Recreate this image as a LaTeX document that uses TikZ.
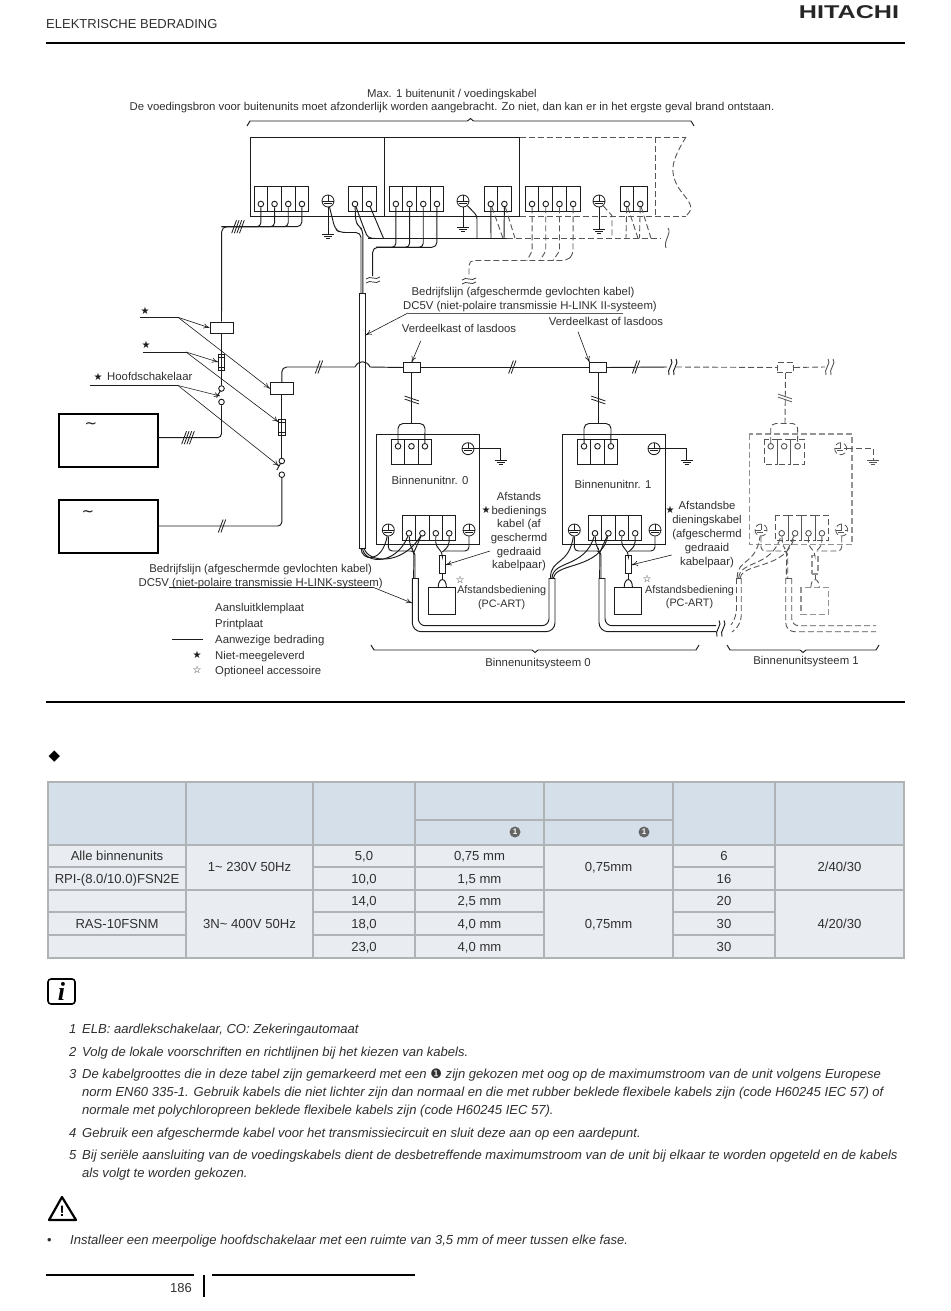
\documentclass[tikz,border=0pt]{standalone}
\usepackage{fontspec}
\setmainfont{Liberation Sans}
\newfontfamily\symf{DejaVu Sans}
\newfontfamily\serf{Liberation Serif}
\usetikzlibrary{arrows.meta,calc}
\definecolor{txtc}{HTML}{303030}
\definecolor{linec}{HTML}{1C1C1C}
\definecolor{dashc}{HTML}{555555}
\definecolor{headbg}{HTML}{D5DFE9}
\definecolor{bodybg}{HTML}{E9ECF1}
\definecolor{gridc}{HTML}{B0B3B6}
\tikzset{
 wire/.style={draw=linec,line width=0.95pt},
 wired/.style={draw=dashc,line width=0.9pt,dash pattern=on 6pt off 3pt},
 lead/.style={draw=linec,line width=0.6pt,-{To[length=6pt,width=5pt]}},
 leadp/.style={draw=linec,line width=0.7pt},
 rule/.style={draw=black,line width=1.5pt},
 dtxt/.style={font=\fontsize{11.35}{13}\selectfont,text=txtc,inner sep=0pt,text height=11pt,text depth=2pt},
 ntxt/.style={font=\fontsize{13.05}{15}\selectfont\itshape,text=txtc,inner sep=0pt,anchor=west,text height=12pt,text depth=2pt},
 ttxt/.style={font=\fontsize{13.1}{15}\selectfont,text=txtc,inner sep=0pt,text height=11pt,text depth=2pt},
 symtxt/.style={font=\fontsize{10}{11}\symf,text=linec,inner sep=0pt},
 term/.style={circle,draw=linec,line width=0.9pt,fill=white,minimum size=5.6pt,inner sep=0pt},
 termd/.style={circle,draw=dashc,line width=0.9pt,fill=white,minimum size=5.6pt,inner sep=0pt},
 box/.style={draw=linec,line width=1pt,inner sep=0pt},
 grid/.style={draw=gridc,line width=2pt},
}
% strip: {line style}{term style}{x}{y}{n}{w}{circle dy}{name}
\newcommand{\dgstrip}[8]{%
 \foreach \i in {1,...,#5}{\draw[#1] ({#3+(\i-1)*#6},#4) rectangle ++(#6,25);
  \node[#2] (#8\i) at ({#3+(\i-0.5)*#6},{#4+#7}) {};}}
\newcommand{\dgearth}[5]{% style, unused, name, x, y
 \node[#1,circle,fill=white,minimum size=12pt,inner sep=0pt,line width=0.8pt] (#3) at (#4,#5) {};
 \draw[#1] ({#4-6},#5)--({#4+6},#5) (#4,{#5-6})--(#4,#5) ({#4-4},{#5+2})--({#4+4},{#5+2});}
\newcommand{\dggnd}[4]{% style,name,x,y
 \coordinate (#2) at (#3,#4);
 \draw[#1,solid] ({#3-6},#4)--({#3+6},#4) ({#3-4},{#4+2})--({#3+4},{#4+2}) ({#3-2},{#4+4})--({#3+2},{#4+4});}
\newcommand{\dghb}[4]{% style,x,y,n : hatch on horizontal wire
 \foreach \i in {1,...,#4}{\draw[#1,solid,line width=0.8pt] ({#2+(\i-(#4+1)/2)*2.6-2.4},{#3+6.5})--({#2+(\i-(#4+1)/2)*2.6+2.4},{#3-6.5});}}
\newcommand{\dghv}[4]{% style,x,y,n : hatch on vertical wire
 \foreach \i in {1,...,#4}{\draw[#1,solid,line width=0.8pt] ({#2-7},{#3+(\i-(#4+1)/2)*3-2.4})--({#2+7},{#3+(\i-(#4+1)/2)*3+2.4});}}
\newcommand{\dgwav}[3]{% style,x,y : two wiggles
 \foreach \d in {-2,2}{\draw[#1,solid,line width=0.7pt] ({#2-7},{#3+\d+1}) .. controls ({#2-3},{#3+\d-3}) and ({#2+3},{#3+\d+3}) .. ({#2+7},{#3+\d-1});}}
\newcommand{\dgwig}[4]{% style,x,y,halfheight : vertical S
 \draw[#1,solid] ({#2+1},{#3-#4}) .. controls ({#2+5},{#3-#4/2}) and ({#2-4},{#3+#4/3}) .. ({#2-1},{#3+#4});}
\newcommand{\dgbrace}[5]{% style,x1,x2,y,dir (+1: ends hang below, notch above)
 \draw[#1] (#2,{#4+#5*5}) -- ({#2+3},#4) -- ({(#2+#3)/2-3},#4) -- ({(#2+#3)/2},{#4-#5*2.5}) -- ({(#2+#3)/2+3},#4) -- ({#3-3},#4) -- (#3,{#4+#5*5});}
\newcommand{\dgn}[1]{\makebox[13pt][l]{#1}}
% indoor unit
\newcommand{\dgindoor}[5]{% prefix, dx, wire style, term style, box style
 \begin{scope}[xshift=#2pt]
 \draw[#5] (376.7,434) rectangle (479.3,544.5);
 \dgstrip{#3}{#4}{391.3}{439.3}{3}{13.45}{7}{#1t}
 \dgstrip{#3}{#4}{402.3}{515.3}{4}{13.4}{18}{#1b}
 \dgearth{#3,draw}{}{#1et}{468}{448.7}
 \dgearth{#3,draw}{}{#1el}{388.3}{530}
 \dgearth{#3,draw}{}{#1er}{469}{530}
 \dggnd{#3}{#1g}{500.7}{460}
 \draw[#3,rounded corners=5] (#1t1) -- (398,423.5) -- (425,423.5) -- (#1t3);
 \draw[#3] (#1et) -| (#1g);
 \node[#5,minimum width=6pt,minimum height=18.3pt,fill=white] (#1r) at (442.3,564.8) {};
 \node[#5,minimum width=27.4pt,minimum height=27pt] (#1c) at (442,600.8) {};
 \draw[#3,rounded corners=4] (#1b3) -- (435.7,546) -- (442.3,552) -- (#1r.north);
 \draw[#3,rounded corners=4] (#1b4) -- (449,546) -- (442.3,552);
 \draw[#3,rounded corners=4] (#1er) -- (469,551) -- (444,551);
 \draw[#3,rounded corners=4] (#1el) -- (388.3,551) -- (415,551) -- (415,578);
 \draw[#3,rounded corners=4] (#1b1) -- (410,546) -- (414,551) -- (413.6,578);
 \draw[#3] (#1b2) -- (414,552);
 \draw[#3] (#1r.south) -- (442.3,579);
 \draw[#3] (438.2,587.3) .. controls (438.2,577) and (446.4,577) .. (446.4,587.3);
 \end{scope}}
\begin{document}
\begin{tikzpicture}[x=1pt,y=-1pt]
\useasboundingbox (0,0) rectangle (950,1311);
\fill[white] (0,0) rectangle (950,1311);
% header
\node[dtxt,font=\fontsize{13}{15}\selectfont,anchor=west] (hdr) at (46,24) {ELEKTRISCHE BEDRADING};
\node[inner sep=0pt,text=black!85] (logo) at (849,12.5) {\scalebox{1.36}[1]{\fontsize{18.5}{20}\selectfont\bfseries HITACHI}};
\draw[rule] (46,43)--(905,43);
\draw[rule] (46,702)--(905,702);
% top text
\node[dtxt] (t1) at (452,93) {Max. 1 buitenunit / voedingskabel};
\node[dtxt] (t2) at (452,106) {De voedingsbron voor buitenunits moet afzonderlijk worden aangebracht. Zo niet, dan kan er in het ergste geval brand ontstaan.};
\dgbrace{wire}{247}{694}{121}{1}
% outdoor boxes
\draw[wire] (250,137) rectangle (384.5,216);
\draw[wire] (384.5,137) rectangle (519.5,216);
\draw[wired] (519.5,137)--(686,137) (655.7,137)--(655.7,216) (519.5,216)--(686,216);
\draw[wired] (686,137) .. controls (672,160) and (668,172) .. (680,190) .. controls (692,205) and (694,208) .. (686,216);
% strips
\dgstrip{wire}{term}{254}{186}{4}{13.7}{18}{sa}
\dgstrip{wire}{term}{348}{186}{2}{14}{18}{sb}
\dgstrip{wire}{term}{389}{186}{4}{13.7}{18}{sc}
\dgstrip{wire}{term}{484}{186}{2}{13.6}{18}{sd}
\dgstrip{wire}{term}{525.2}{186}{4}{13.7}{18}{se}
\dgstrip{wire}{term}{620}{186}{2}{13.5}{18}{sf}
\dgearth{wire,draw}{}{ea}{328}{201}
\dgearth{wire,draw}{}{eb}{463}{201}
\dgearth{wire,draw}{}{ec}{599}{201}
\dggnd{wire}{ga}{328}{234}
\dggnd{wire}{gb}{463}{227}
\dggnd{wire}{gc}{599}{229}
\draw[wire] (ea)--(ga) (eb)--(gb) (ec)--(gc);
% outdoor power bus
\coordinate (ca) at (221.7,226.7);
\foreach \i in {1,2,3}{\draw[wire,rounded corners=4] (sa\i) |- (ca);}
\coordinate (pa) at (158,437.7);
\coordinate (pb) at (158,526);
\node[box,minimum width=23pt,minimum height=11.5pt] (elba) at (221.5,327.8) {};
\node[box,minimum width=23pt,minimum height=11.5pt] (elbb) at (281.8,388.5) {};
\node[box,minimum width=6.5pt,minimum height=16pt] (fa) at (221.5,362) {};
\node[box,minimum width=6.5pt,minimum height=16pt] (fb) at (281.8,427) {};
\node[term] (swa1) at (221.5,388.5) {};
\node[term] (swa2) at (221.5,402) {};
\node[term] (swb1) at (281.8,461) {};
\node[term] (swb2) at (281.8,474.7) {};
\draw[wire] (218.2,357)--(224.8,357) (218.2,367)--(224.8,367) (278.5,422)--(285,422) (278.5,432)--(285,432);
\node[draw=black,line width=1.4pt,inner sep=0pt,minimum width=99pt,minimum height=53pt] (psua) at (108.5,440.5) {};
\node[draw=black,line width=1.4pt,inner sep=0pt,minimum width=99pt,minimum height=53pt] (psub) at (108.5,526.5) {};
\draw[wire,rounded corners=5] (sa4) |- (ca) -- (elba.north);
\draw[wire] (elba.south)--(fa.north) (fa.north)--(fa.south) (fa.south)--(swa1);
\draw[wire,rounded corners=4] (swa2) -- (221.5,437.7) -- (pa);
\draw[wire] (swa1)++(-1,2) -- ++(-4,7);
\draw[wire] (elbb.south)--(fb.north) (fb.north)--(fb.south) (fb.south)--(swb1);
\draw[wire,rounded corners=4] (swb2) -- (281.8,526) -- (pb);
\draw[wire] (swb1)++(-1,2) -- ++(-4,7);
\dghb{wire}{238}{226.7}{4}
\dghb{wire}{188}{437.7}{4}
\dghb{wire}{222}{526}{2}
\dghb{wire}{319}{367}{2}
\node[inner sep=0pt,font=\fontsize{15}{16}\symf,text=linec] (tila) at (91,426) {\char"223C};
\node[inner sep=0pt,font=\fontsize{15}{16}\symf,text=linec] (tilb) at (88,513) {\char"223C};
% transmission from outdoor
\draw[wire,rounded corners=5] (ea) -- (335,229) -- (340,232.5) -- (361,232.5) -- (361,293);
\draw[wire,rounded corners=4] (sb1) -- (355.7,222) -- (359,226.5) -- (362.8,230) -- (362.8,293);
\draw[wire,rounded corners=4] (sb1) -- (363,226) -- (368,238.3) -- (375,238.3);
\draw[wire] (sb2) -- (383.5,238.3);
\draw[wire] (368,238.3) -- (506.7,238.3);
\draw[wired] (506.7,238.3) -- (661,238.3);
\dgwig{wired}{667}{238}{10}
\draw[wire] (sd1) -- (491,238.3) (sd2) -- (504,238.3);
\draw[wire,rounded corners=3] (eb) -- (477,215.7) -- (477,238.3);
\draw[wired] (sd1) -- (503,238.3);
\draw[wired] (sd2) -- (515,238.3);
\draw[wired] (ec) -- (612,215.7) -- (612,238.3);
\draw[wired] (sf1) -- (626,238.3);
\draw[wired] (sf2) -- (639.5,238.3);
\draw[wired] (sf1) -- (638,238.3);
\draw[wired] (sf2) -- (651,238.3);
% strip c to cable
\foreach \i in {1,2,3}{\draw[wire,rounded corners=4] (sc\i) |- (376,247.3);}
\draw[wire,rounded corners=5] (sc4) |- (372.7,247.3) -- (372.7,276);
\dgwav{wire}{373}{280}
\foreach \i/\xx in {1/527,2/540,3/553}{\draw[wired] (se\i) -- ++(0,47) -- (\xx,260.5);}
\draw[wired,rounded corners=5] (se4) -- (573,255) -- (567,260.5) -- (469,260.5) -- (469,275);
\dgwav{wire}{469}{281}
% main sheath
\draw[wire] (359.3,293) rectangle (365.3,548);
% bus
\node[box,fill=white,minimum width=16.7pt,minimum height=9.6pt] (jb0) at (411.7,367.5) {};
\node[box,fill=white,minimum width=16.7pt,minimum height=9.6pt] (jb1) at (598.3,367.5) {};
\node[wired,draw,inner sep=0pt,minimum width=16.4pt,minimum height=9.6pt] (jb2) at (785.5,367.5) {};
\draw[wire,rounded corners=5] (elbb.north) |- (355,367);
\draw[wire] (355,367) .. controls (358,360) and (367,360) .. (370,367) -- (jb0.west);
\draw[wire] (jb0.east) -- (jb1.west);
\draw[wire] (jb1.east) -- (667,367);
\dgwig{wire}{670}{367}{8}
\dgwig{wire}{675}{367}{8}
\draw[wired] (676,367) -- (jb2.west);
\draw[wired] (jb2.east) -- (825,367);
\dgwig{wired}{827}{367}{8}
\dgwig{wired}{832}{367}{8}
\dghb{wire}{512.3}{367}{2}
\dghb{wire}{636}{367}{2}
\draw[wire] (jb0.south) -- (411.7,423.5);
\draw[wire] (jb1.south) -- (598.3,423.5);
\draw[wired] (jb2.south) -- (785,423.5);
\dghv{wire}{411.7}{400}{2}
\dghv{wire}{598.3}{400}{2}
\dghv{wired}{785}{398}{2}
% indoor units
\dgindoor{u}{0}{wire}{term}{box}
\dgindoor{v}{186}{wire}{term}{box}
\dgindoor{w}{372.7}{wired}{termd}{wired,draw,inner sep=0pt,draw=gray!85,line width=1.1pt}
% cable curves to unit 0
\draw[wire] (361,548) .. controls (361,561) and (382,564) .. (uel);
\draw[wire] (362.5,548) .. controls (364,564) and (396,566) .. (ub1);
\draw[wire] (364,548) .. controls (368,563) and (402,566) .. (ub2);
% cable curves to unit 1
\draw[wire] (550.5,578) .. controls (550.5,558) and (569,566) .. (vel);
\draw[wire] (552,578) .. controls (553,560) and (585,568) .. (vb1);
\draw[wire] (553.5,578) .. controls (556,562) and (600,570) .. (vb2);
% cable curves to unit 2
\draw[wired] (737.2,578) .. controls (737.2,558) and (755.7,566) .. (wel);
\draw[wired] (738.7,578) .. controls (739.7,560) and (771.7,568) .. (wb1);
\draw[wired] (740.2,578) .. controls (742.7,562) and (786.7,570) .. (wb2);
% bent sheaths
\draw[wire,rounded corners=9] (412.3,578) -- (412.3,631.7) -- (555,631.7) -- (555,578);
\draw[wire] (555,578) -- (549,578);
\draw[wire,rounded corners=7] (549,578) -- (549,625.7) -- (418.3,625.7) -- (418.3,578);
\draw[wire] (418.3,578) -- (412.3,578);
\draw[wire,rounded corners=9] (599,578) -- (599,631.7) -- (716,631.7);
\draw[wire,rounded corners=7] (605,578) -- (605,625.7) -- (716,625.7);
\draw[wire] (599,578) -- (605,578);
\dgwig{wire}{718}{628.5}{8}
\dgwig{wire}{723}{628.5}{8}
\draw[wired,rounded corners=7] (736.5,578) -- (736.5,616) -- (731,625);
\draw[wired,rounded corners=8] (741.2,578) -- (741.2,624) -- (732,632);
\draw[wired] (736.5,578) -- (741.2,578);
\draw[wired,rounded corners=9] (785.7,578) -- (785.7,631.7) -- (876,631.7);
\draw[wired,rounded corners=7] (791.7,578) -- (791.7,625.7) -- (876,625.7);
\draw[wired] (785.7,578) -- (791.7,578);
% leaders
\coordinate (la1) at (140,317.3); \coordinate (la2) at (178,317.3);
\coordinate (lb1) at (143,352); \coordinate (lb2) at (186,352);
\coordinate (lc1) at (90,385.5); \coordinate (lc2) at (178,385.5);
\draw[leadp] (la1)--(la2) (lb1)--(lb2) (lc1)--(lc2);
\draw[lead] (la2) -- (elba.west);
\draw[lead] (la2) -- (elbb.west);
\draw[lead] (lb2) -- (218,362);
\draw[lead] (lb2) -- (278.5,422);
\draw[lead] (lc2) -- (220,396);
\draw[lead] (lc2) -- (279,466);
\node[symtxt] (sta) at (145,311) {★};
\node[symtxt] (stb) at (146,345) {★};
\node[symtxt] (stc) at (98,377) {★};
\node[dtxt,anchor=west] (hoof) at (107,376) {Hoofdschakelaar};
% bedrijfslijn top
\node[dtxt] (bl1) at (523,291) {Bedrijfslijn (afgeschermde gevlochten kabel)};
\node[dtxt] (bl2) at (530,305) {DC5V (niet-polaire transmissie H-LINK II-systeem)};
\coordinate (bl3) at (623,313); \coordinate (bl4) at (408,313); \coordinate (bl5) at (365.7,335);
\draw[draw=gray!70!black,line width=0.9pt] (bl3) -- (bl4);
\draw[lead] (bl4) -- (bl5);
\node[dtxt] (vk1) at (459,328) {Verdeelkast of lasdoos};
\node[dtxt] (vk2) at (606,321) {Verdeelkast of lasdoos};
\coordinate (vk1a) at (420.7,341); \coordinate (vk2a) at (578,331.7);
\draw[lead] (vk1a) -- (jb0.north);
\draw[lead] (vk2a) -- (jb1.north west);
% bedrijfslijn bottom
\node[dtxt] (bm1) at (260.7,568) {Bedrijfslijn (afgeschermde gevlochten kabel)};
\node[dtxt] (bm2) at (260.7,582) {DC5V (niet-polaire transmissie H-LINK-systeem)};
\coordinate (bm3) at (169,587.3); \coordinate (bm4) at (373,587.3); \coordinate (bm5) at (412,603);
\draw[leadp] (bm3) -- (bm4);
\draw[lead] (bm4) -- (bm5);
% legend
\node[dtxt,anchor=west] (lg1) at (215,607) {Aansluitklemplaat};
\node[dtxt,anchor=west] (lg2) at (215,623) {Printplaat};
\node[dtxt,anchor=west] (lg3) at (215,639) {Aanwezige bedrading};
\node[dtxt,anchor=west] (lg4) at (215,655) {Niet-meegeleverd};
\node[dtxt,anchor=west] (lg5) at (215,670) {Optioneel accessoire};
\coordinate (lgl1) at (172,639); \coordinate (lgl2) at (203,639);
\draw[leadp] (lgl1) -- (lgl2);
\node[symtxt] (lgs1) at (197,655) {★};
\node[symtxt] (lgs2) at (197,670) {☆};
% unit texts
\node[dtxt] (in0) at (430,480) {Binnenunitnr. 0};
\node[dtxt] (in1) at (613,484) {Binnenunitnr. 1};
\foreach \t/\yy in {Afstands/496,bedienings/510,kabel (af/523,geschermd/537,gedraaid/551,{kabelpaar)}/564}{\node[dtxt] (k\yy) at (519,\yy) {\t};}
\node[symtxt] (ks) at (486,510) {★};
\foreach \t/\yy in {Afstandsbe/505,dieningskabel/519,{(afgeschermd}/533,gedraaid/547,{kabelpaar)}/561}{\node[dtxt] (m\yy) at (707,\yy) {\t};}
\node[symtxt] (ms) at (670,510) {★};
\coordinate (kl) at (490,551); \coordinate (ml) at (671.7,555);
\draw[lead] (kl) -- (ur.east);
\draw[lead] (ml) -- (vr.east);
\node[dtxt,font=\fontsize{10.8}{12}\selectfont] (pc1) at (501.7,589) {Afstandsbediening};
\node[dtxt,font=\fontsize{10.8}{12}\selectfont] (pc2) at (501.7,603) {(PC-ART)};
\node[dtxt,font=\fontsize{10.8}{12}\selectfont] (pd1) at (689.5,588.5) {Afstandsbediening};
\node[dtxt,font=\fontsize{10.8}{12}\selectfont] (pd2) at (689.5,602) {(PC-ART)};
\node[symtxt] (ps1) at (460,580) {☆};
\node[symtxt] (ps2) at (647,579) {☆};
% braces
\dgbrace{wire}{371}{699}{650}{-1}
\dgbrace{wire}{727}{879}{650}{-1}
\node[dtxt] (sy0) at (538,662) {Binnenunitsysteem 0};
\node[dtxt] (sy1) at (806,660) {Binnenunitsysteem 1};
% table section
\node[inner sep=0pt,font=\fontsize{15}{16}\symf,text=black] (dia) at (54.5,756.5) {◆};
\fill[headbg] (48,782) rectangle (904,845);
\fill[bodybg] (48,845) rectangle (904,958);
\draw[grid] (48,782) rectangle (904,958);
\foreach \xx in {186,313,415,544,673,775}{\draw[grid] (\xx,782)--(\xx,958);}
\draw[grid] (48,845)--(904,845) (48,890)--(904,890) (415,820)--(673,820);
\draw[grid,line width=1.1pt] (48,867)--(186,867) (313,867)--(544,867) (673,867)--(775,867);
\draw[grid,line width=1.6pt] (48,912)--(186,912) (313,912)--(544,912) (673,912)--(775,912);
\draw[grid,line width=1.6pt] (48,935)--(186,935) (313,935)--(544,935) (673,935)--(775,935);
\node[circle,fill=gray!80!black,inner sep=0pt,minimum size=11pt,text=white,font=\fontsize{8}{9}\selectfont\bfseries] (n1) at (515,832) {1};
\node[circle,fill=gray!80!black,inner sep=0pt,minimum size=11pt,text=white,font=\fontsize{8}{9}\selectfont\bfseries] (n2) at (644,832) {1};
\node[ttxt] (a1) at (117,856) {Alle binnenunits};
\node[ttxt] (a2) at (117,878.5) {RPI-(8.0/10.0)FSN2E};
\node[ttxt] (a3) at (117,923.5) {RAS-10FSNM};
\node[ttxt] (b1) at (249.5,866.5) {1\char"7E\ 230V 50Hz};
\node[ttxt] (b2) at (249.5,923.5) {3N\char"7E\ 400V 50Hz};
\node[ttxt] (c1) at (364,856) {5,0};
\node[ttxt] (c2) at (364,878.5) {10,0};
\node[ttxt] (c3) at (364,901) {14,0};
\node[ttxt] (c4) at (364,923.5) {18,0};
\node[ttxt] (c5) at (364,946.5) {23,0};
\node[ttxt] (d1) at (479.5,856) {0,75 mm};
\node[ttxt] (d2) at (479.5,878.5) {1,5 mm};
\node[ttxt] (d3) at (479.5,901) {2,5 mm};
\node[ttxt] (d4) at (479.5,923.5) {4,0 mm};
\node[ttxt] (d5) at (479.5,946.5) {4,0 mm};
\node[ttxt] (e1) at (608.5,866.5) {0,75mm};
\node[ttxt] (e2) at (608.5,923.5) {0,75mm};
\node[ttxt] (f1) at (724,856) {6};
\node[ttxt] (f2) at (724,878.5) {16};
\node[ttxt] (f3) at (724,901) {20};
\node[ttxt] (f4) at (724,923.5) {30};
\node[ttxt] (f5) at (724,946.5) {30};
\node[ttxt] (g1) at (839.5,866.5) {2/40/30};
\node[ttxt] (g2) at (839.5,923.5) {4/20/30};
% info icon
\node[draw=black,line width=1.6pt,rounded corners=3pt,minimum width=27pt,minimum height=25pt,inner sep=0pt,font=\fontsize{26}{26}\serf\bfseries\itshape,text=black] (info) at (61.5,991.5) {i};
% notes
\node[ntxt] (p1) at (69,1028) {\dgn{1}ELB: aardlekschakelaar, CO: Zekeringautomaat};
\node[ntxt] (p2) at (69,1051) {\dgn{2}Volg de lokale voorschriften en richtlijnen bij het kiezen van kabels.};
\node[ntxt] (p3) at (69,1073) {\dgn{3}De kabelgroottes die in deze tabel zijn gemarkeerd met een {\symf\upshape ❶} zijn gekozen met oog op de maximumstroom van de unit volgens Europese};
\node[ntxt] (p3b) at (82,1091) {norm EN60 335-1. Gebruik kabels die niet lichter zijn dan normaal en die met rubber beklede flexibele kabels zijn (code H60245 IEC 57) of};
\node[ntxt] (p3c) at (82,1109) {normale met polychloropreen beklede flexibele kabels zijn (code H60245 IEC 57).};
\node[ntxt] (p4) at (69,1132) {\dgn{4}Gebruik een afgeschermde kabel voor het transmissiecircuit en sluit deze aan op een aardepunt.};
\node[ntxt] (p5) at (69,1154) {\dgn{5}Bij seriële aansluiting van de voedingskabels dient de desbetreffende maximumstroom van de unit bij elkaar te worden opgeteld en de kabels};
\node[ntxt] (p5b) at (82,1172) {als volgt te worden gekozen.};
% warning
\draw[draw=black,line width=2.2pt,line join=round] (62,1197) -- (76,1220) -- (49,1220) -- cycle;
\node[inner sep=0pt,font=\fontsize{15}{16}\selectfont\bfseries,text=black] (warn) at (62,1211) {!};
\node[ntxt,font=\fontsize{13}{15}\selectfont\upshape] (bul) at (47,1239) {•};
\node[ntxt] (inst) at (70,1239) {Installeer een meerpolige hoofdschakelaar met een ruimte van 3,5 mm of meer tussen elke fase.};
% footer
\draw[rule] (46,1275)--(194,1275) (212,1275)--(415,1275);
\draw[rule] (204,1275)--(204,1297);
\node[dtxt,font=\fontsize{13}{15}\selectfont,anchor=east] (pg) at (192,1288) {186};
\end{tikzpicture}
\end{document}
